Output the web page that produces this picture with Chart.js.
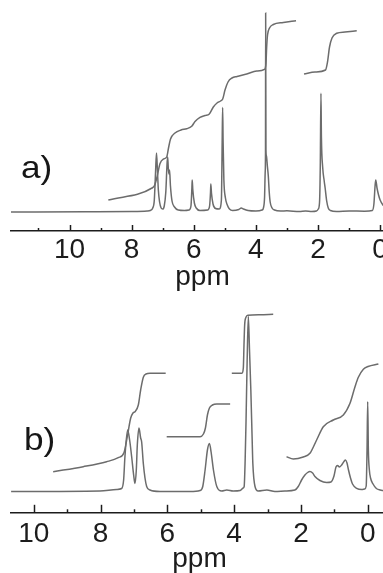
<!DOCTYPE html>
<html>
<head>
<meta charset="utf-8">
<script src="https://cdn.jsdelivr.net/npm/chart.js@4/dist/chart.umd.min.js"></script>
<style>
  html, body { margin: 0; padding: 0; background: #fff; }
  #fig { position: relative; width: 383px; height: 573px; overflow: hidden; background: #fff; }
  #panelA { position: absolute; left: 0; top: 0; }
  #panelB { position: absolute; left: 0; top: 288px; }
  .tag {
    position: absolute;
    font-family: 'Liberation Sans', Arial, sans-serif;
    font-size: 32px;
    line-height: 32px;
    color: #161616;
    white-space: nowrap;
    transform: scaleX(1.1);
    transform-origin: 0 0;
  }
</style>
</head>
<body>
<div id="fig">
  <canvas id="panelA" width="394" height="294" style="width:394px;height:294px"></canvas>
  <canvas id="panelB" width="388" height="292" style="width:388px;height:292px"></canvas>
  <div class="tag" id="tagA" style="left:21px;top:151px"></div>
  <div class="tag" id="tagB" style="left:24px;top:423px"></div>
</div>
<script>
// ---- axis labels ----
const panelLabels = ['a)', 'b)'];
const axisTitle = 'ppm';
const majorTicks = [10, 8, 6, 4, 2, 0];
const minorTicks = [11, 9, 7, 5, 3, 1];

// ---- spectrum a: chemical shift (ppm) and intensity ----
const aSpecPpm = [11.9, 9.5, 8.0, 7.5, 7.4, 7.32, 7.27, 7.23, 7.2, 7.17, 7.14, 7.1, 7.05, 7.0,
  6.95, 6.9, 6.86, 6.84, 6.82, 6.8, 6.78, 6.75, 6.7, 6.62, 6.5, 6.3,
  6.15, 6.09, 6.06, 6.05, 6.03, 5.98, 5.92, 5.8,
  5.55, 5.49, 5.46, 5.45, 5.43, 5.38, 5.3,
  5.18, 5.11, 5.085, 5.07, 5.055, 5.03, 4.98, 4.92, 4.85, 4.75,
  4.55, 4.47, 4.4, 4.25, 4.0,
  3.8, 3.75, 3.72, 3.7, 3.69, 3.685, 3.675, 3.66, 3.63, 3.6, 3.57, 3.54, 3.48, 3.4,
  3.2, 3.0, 2.6, 2.4, 2.2, 2.05,
  1.99, 1.95, 1.925, 1.905, 1.89, 1.85, 1.8, 1.77, 1.72, 1.67, 1.6, 1.4, 1.0, 0.5,
  0.25, 0.2, 0.16, 0.14, 0.1, 0.05, 0.0, -0.09, -0.2, -0.45];
const aSpecInt = [0, 0.3, 0.5, 1, 1.5, 4, 12, 40, 59, 42, 22, 10, 4, 3,
  6, 20, 48, 55, 44, 38, 42, 26, 11, 5, 2, 1.5,
  2, 6, 24, 32, 22, 9, 4, 1.5,
  2, 6, 20, 28, 19, 8, 3.5,
  3, 12, 70, 104.5, 70, 32, 14, 7, 3, 1.5,
  2.5, 4, 3, 1.5, 1,
  2, 5, 15, 40, 60, 199, 62, 56, 46, 36, 20, 10, 4, 2,
  1, 1.2, 0.5, 1, 0.5, 1,
  3, 10, 50, 118.7, 75, 45, 31, 24, 11, 4, 1.5, 0.5, 1, 0.8,
  1.5, 8, 27, 32, 24, 17, 12, 7, 4, 2];

// integral traces of spectrum a
const aInt1Ppm = [8.75, 7.344, 7.263, 7.183, 7.086, 6.974, 6.87, 6.813, 6.748, 6.603, 6.41, 6.227,
  6.066, 5.959, 5.799, 5.638, 5.499, 5.37, 5.251, 5.138, 5.068, 4.994, 4.897, 4.768, 4.607,
  4.295, 3.973, 3.722, 3.674, 3.654, 3.625, 3.561, 3.439, 3.117, 2.708];
const aInt1Val = [12, 24, 26.5, 35, 48.5, 53, 55, 64, 73, 79, 82, 83.3,
  85.7, 90.5, 94.7, 96.5, 98, 105, 109, 111, 113, 122, 130, 134, 135.5,
  138, 141, 142.7, 149, 164, 177, 184, 187.5, 189.5, 191.3];
const aInt2Ppm = [2.45, 2.096, 1.758, 1.694, 1.629, 1.549, 1.397, 1.13, 0.753];
const aInt2Val = [138, 140, 142, 150, 165, 174, 178.7, 180, 181.3];

// ---- spectrum b ----
const bSpecPpm = [10.68, 8.02, 7.52, 7.37, 7.31, 7.27, 7.19, 7.13, 7.07, 7.01, 6.97,
  6.93, 6.9, 6.85, 6.8, 6.77, 6.72, 6.67, 6.62, 6.52, 6.22, 5.32,
  5.02, 4.94, 4.87, 4.8, 4.74, 4.69, 4.62, 4.52, 4.37, 4.22, 4.03,
  3.82, 3.73, 3.7, 3.67, 3.645, 3.61, 3.575, 3.54, 3.5, 3.46, 3.44, 3.375, 3.28,
  3.02, 2.78, 2.48, 2.18, 2.08, 1.98, 1.88, 1.8, 1.73, 1.65, 1.58, 1.43, 1.23,
  1.1, 1.01, 0.95, 0.9, 0.85, 0.78, 0.71, 0.665, 0.62, 0.575, 0.515, 0.455, 0.33, 0.18,
  0.09, 0.045, 0.02, 0.0, -0.02, -0.05, -0.085, -0.16, -0.26, -0.37, -0.61];
const bSpecInt = [0, 0.5, 2, 3, 11.5, 35, 61.5, 51.5, 35, 16.5, 8,
  21.5, 46.5, 63.5, 53.5, 49.5, 28, 13.5, 5, 1.5, 0, 0,
  1, 5, 21.5, 41.5, 48, 39.5, 21.5, 5, 0.5, 1.5, 0.5,
  1, 3.5, 5, 31.5, 68.5, 131.5, 175, 141.5, 101.5, 51.5, 28, 5, 0.5,
  1.5, 0, 0.5, 1.5, 5, 11.5, 16.5, 19, 20, 18.5, 15, 11, 9,
  9.5, 15.5, 24.5, 26, 24.5, 26.5, 30, 31.5, 28.5, 21.5, 13.5, 7.5, 3.2, 2,
  2.5, 5.5, 41.5, 89.8, 41.5, 21.5, 13.5, 7.5, 3, 1.5, 0.5];

// integral traces of spectrum b
const bInt1Ppm = [9.42, 8.52, 7.82, 7.47, 7.3, 7.2, 7.1, 7.03, 6.97, 6.87, 6.8, 6.72, 6.64, 6.52, 6.05];
const bInt1Val = [19.8, 24.8, 29.8, 33.8, 38.8, 54.8, 73.2, 78.5, 79.8, 86.5, 101.5, 114.2, 117.5, 118.2, 118.2];
const bInt2Ppm = [6.02, 5.02, 4.92, 4.86, 4.8, 4.74, 4.65, 4.52, 4.12];
const bInt2Val = [54.8, 54.8, 57.5, 63.5, 76.5, 83.5, 86.5, 87.5, 87.5];
const bInt3Ppm = [4.07, 3.765, 3.725, 3.705, 3.685, 3.655, 3.585, 3.225, 2.83];
const bInt3Val = [118.2, 118.2, 123.5, 146.5, 166.5, 173.5, 176.2, 176.8, 177.2];
const bInt4Ppm = [2.43, 2.23, 1.93, 1.73, 1.53, 1.33, 1.03, 0.73, 0.53, 0.38, 0.28, 0.13, -0.01, -0.32];
const bInt4Val = [34.8, 32.5, 34.5, 38.2, 51.5, 64.8, 71.5, 76.5, 88.2, 104.8, 114.2, 122.2, 125, 127.5];

// ---- drawing ----
const FONT = "'Liberation Sans', Arial, sans-serif";
const INK = '#1c1c1c';
const TRACE = '#6c6c6c';

const pts = (xs, ys) => xs.map((x, i) => ({ x: x, y: ys[i] }));

// short inward tick marks on the ppm axis, placed through the x scale
const axisTicks = {
  id: 'axisTicks',
  afterDraw(chart, args, o) {
    const s = chart.scales.x;
    const ctx = chart.ctx;
    ctx.save();
    ctx.strokeStyle = o.color;
    ctx.lineWidth = o.width;
    const mark = (v, len) => {
      if (v < s.min || v > s.max) return;
      const px = Math.round(s.getPixelForValue(v)) + 0.5;
      ctx.beginPath();
      ctx.moveTo(px, s.top);
      ctx.lineTo(px, s.top - len);
      ctx.stroke();
    };
    o.major.forEach(v => mark(v, o.majorLen));
    o.minor.forEach(v => mark(v, o.minorLen));
    ctx.restore();
  }
};

function trace(data) {
  return {
    data: data,
    borderColor: TRACE,
    borderWidth: 1.5,
    pointRadius: 0,
    fill: false,
    cubicInterpolationMode: 'monotone'
  };
}

function panel(canvasId, cfg) {
  return new Chart(document.getElementById(canvasId), {
    type: 'line',
    data: { datasets: cfg.series.map(trace) },
    options: {
      responsive: false,
      animation: false,
      devicePixelRatio: 1,
      events: [],
      layout: { padding: { left: 11, right: 0, top: 0, bottom: 0 } },
      plugins: {
        legend: { display: false },
        tooltip: { enabled: false },
        axisTicks: {
          major: majorTicks, minor: minorTicks,
          majorLen: cfg.majorLen, minorLen: 3, color: INK, width: 1.5
        }
      },
      scales: {
        x: {
          type: 'linear',
          reverse: true,
          min: cfg.xMin,
          max: cfg.xMax,
          afterBuildTicks: s => { s.ticks = majorTicks.map(v => ({ value: v })); },
          afterFit: s => { s.height = cfg.axisHeight; s.paddingLeft = 0; s.paddingRight = 0; },
          grid: { display: false, drawTicks: false, tickLength: 0 },
          border: { display: true, color: INK, width: 1.5 },
          ticks: {
            autoSkip: false,
            maxRotation: 0,
            padding: cfg.tickPad,
            color: INK,
            font: { family: FONT, size: 28 },
            callback: v => String(v)
          },
          title: {
            display: true,
            text: axisTitle,
            color: INK,
            font: { family: FONT, size: 28 },
            padding: { top: 0, bottom: cfg.titlePad }
          }
        },
        y: { display: false, min: cfg.yMin, max: cfg.yMax }
      }
    },
    plugins: [axisTicks]
  });
}

panel('panelA', {
  series: [pts(aSpecPpm, aSpecInt), pts(aInt1Ppm, aInt1Val), pts(aInt2Ppm, aInt2Val)],
  xMin: -0.447, xMax: 11.884,
  yMin: -19, yMax: 212,
  axisHeight: 63, tickPad: 2, titlePad: 0, majorLen: 6
});

panel('panelB', {
  series: [pts(bSpecPpm, bSpecInt), pts(bInt1Ppm, bInt1Val), pts(bInt2Ppm, bInt2Val),
           pts(bInt3Ppm, bInt3Val), pts(bInt4Ppm, bInt4Val)],
  xMin: -0.608, xMax: 10.683,
  yMin: -20.8, yMax: 203.5,
  axisHeight: 67.7, tickPad: 5, titlePad: 3.9, majorLen: 7.5
});

document.getElementById('tagA').textContent = panelLabels[0];
document.getElementById('tagB').textContent = panelLabels[1];
</script>
</body>
</html>
